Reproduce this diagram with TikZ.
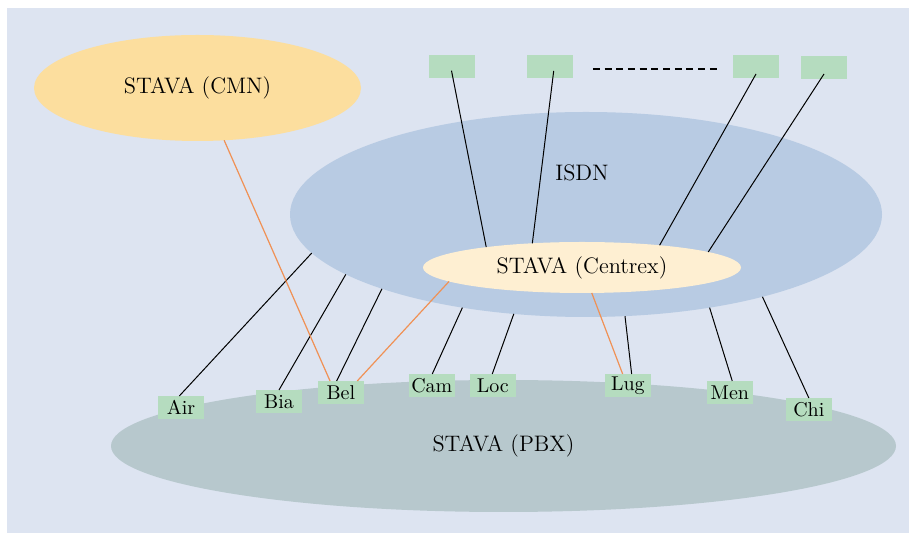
\documentclass[tikz,border=0pt]{standalone}
\usetikzlibrary{shapes.geometric}

\definecolor{bgblue}{RGB}{221,228,241}
\definecolor{cmnfill}{RGB}{252,222,158}
\definecolor{isdnfill}{RGB}{184,203,227}
\definecolor{centrexfill}{RGB}{254,239,210}
\definecolor{pbxfill}{RGB}{183,200,205}
\definecolor{boxgreen}{RGB}{181,220,191}
\definecolor{linkorange}{RGB}{240,145,85}

\tikzset{
  net/.style={ellipse, inner sep=0pt, outer sep=0pt},
  bigtext/.style={font=\fontsize{11.2}{13}\selectfont},
  site/.style={rectangle, fill=boxgreen, inner sep=0pt, outer sep=0pt,
    minimum width=22.85pt, minimum height=11.35pt,
    font=\fontsize{10}{12}\selectfont},
  link/.style={line width=0.5pt, black},
  olink/.style={line width=0.6pt, linkorange},
  dots/.style={line width=1.2pt, dash pattern=on 3.5pt off 2.35pt},
}

\begin{document}
\begin{tikzpicture}[x=0.5pt,y=-0.5pt]
\useasboundingbox (0,0) rectangle (911,533);
\fill[bgblue] (7,8) rectangle (909,533);

% networks
\node[net, fill=cmnfill, minimum width=163.5pt, minimum height=53pt, bigtext]
  (cmn) at (197.5,88) {STAVA (CMN)};
\node[net, fill=isdnfill, minimum width=296pt, minimum height=102.5pt]
  (isdn) at (586,214.5) {};
\node[bigtext] (isdnlabel) at (582,173) {ISDN};
\node[net, fill=centrexfill, minimum width=159pt, minimum height=25.5pt, bigtext]
  (centrex) at (582,267.5) {STAVA (Centrex)};
\node[net, fill=pbxfill, minimum width=392.5pt, minimum height=66pt, bigtext]
  (pbx) at (503.5,446) {STAVA (PBX)};

% centrex subscribers
\node[site] (t1) at (452,66.5) {};
\node[site] (t2) at (550,66.5) {};
\node[site] (t3) at (756,66.5) {};
\node[site] (t4) at (824,67.5) {};
\draw[dots] ([xshift=10pt,yshift=-1.25pt]t2.east) -- ([xshift=-7.5pt,yshift=-1.25pt]t3.west);

% PBX sites
\node[site] (air) at (181,407.35) {Air};
\node[site] (bia) at (279,401.35) {Bia};
\node[site] (bel) at (340.85,392.35) {Bel};
\node[site] (cam) at (431.85,385.35) {Cam};
\node[site] (loc) at (492.85,385.35) {Loc};
\node[site] (lug) at (627.85,385.35) {Lug};
\node[site] (men) at (729.85,392.35) {Men};
\node[site] (chi) at (808.85,409.35) {Chi};

% subscriber lines into the centrex
\draw[link] ([xshift=-0.25pt,yshift=-2.1pt]t1.center) -- (centrex.168.4);
\draw[link] ([xshift=1.85pt,yshift=-2.25pt]t2.center) -- (centrex.154.7);
\draw[link] ([yshift=-3.75pt]t3.center) -- (centrex.16.8);
\draw[link] ([yshift=-3.25pt]t4.center) -- (centrex.7);

% ISDN access of the PBX sites
\draw[link] (isdn.188.5) -- ([xshift=-0.85pt]air.north);
\draw[link] (isdn.194.4) -- (bia.north);
\draw[link] (isdn.200.4) -- ([xshift=-2.1pt]bel.north);
\draw[link] (isdn.217.7) -- ([xshift=0.2pt]cam.north);
\draw[link] (isdn.234.4) -- ([xshift=-0.3pt]loc.north);
\draw[link] (isdn.291.3) -- ([xshift=1.9pt]lug.north);
\draw[link] (isdn.323.3) -- ([xshift=1.2pt]men.north);
\draw[link] (isdn.335) -- (chi.north);

% STAVA links
\draw[olink] (cmn.297.4) -- ([xshift=-5.4pt]bel.north);
\draw[olink] (centrex.186.6) -- ([xshift=8.2pt]bel.north);
\draw[olink] (centrex.291.4) -- ([xshift=-2.6pt]lug.north);
\end{tikzpicture}
\end{document}
